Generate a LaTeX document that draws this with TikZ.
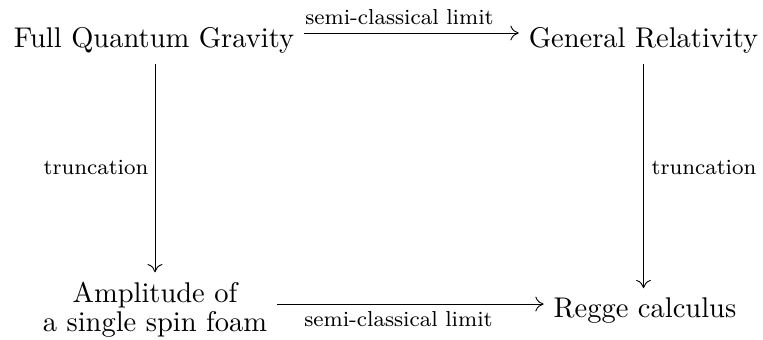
\documentclass[tikz,border=0pt]{standalone}
\usetikzlibrary{arrows.meta}
\begin{document}
\begin{tikzpicture}[x=0.35088pt,y=-0.35088pt,
  main/.style={font=\fontsize{10}{10.2}\selectfont, inner sep=3.33pt},
  lbl/.style={font=\fontsize{7.6}{9}\selectfont, inner sep=0pt, anchor=base},
  arr/.style={draw, line width=0.32pt, -{To[length=2.9pt,width=5.2pt]}}]
\useasboundingbox (0,0) rectangle (763,340);
\node[main, anchor=base] (fqg) at (154,48) {Full Quantum Gravity};
\node[main, anchor=base] (gr) at (643.5,48) {General Relativity};
\node[main, align=center] (amp) at (155,310) {Amplitude of\\a single spin foam};
\node[main, anchor=base] (rc) at (645,318) {Regge calculus};
\coordinate (t1) at ([yshift=5.26pt]fqg.base east);
\coordinate (t2) at ([yshift=5.26pt]gr.base west);
\coordinate (b2) at ([yshift=4.9pt]rc.base west);
\draw[arr] (t1) -- (t2 |- t1);
\draw[arr] (amp.east |- b2) -- (b2);
\draw[arr] (amp.north |- fqg.south) -- (amp.north);
\draw[arr] (gr.south) -- (gr.south |- rc.north);
\node[lbl] (l1) at (399.5,25) {semi-classical limit};
\node[lbl] (l2) at (398.5,327) {semi-classical limit};
\node[lbl] (l3) at (96,175) {truncation};
\node[lbl] (l4) at (704,175) {truncation};
\end{tikzpicture}
\end{document}
